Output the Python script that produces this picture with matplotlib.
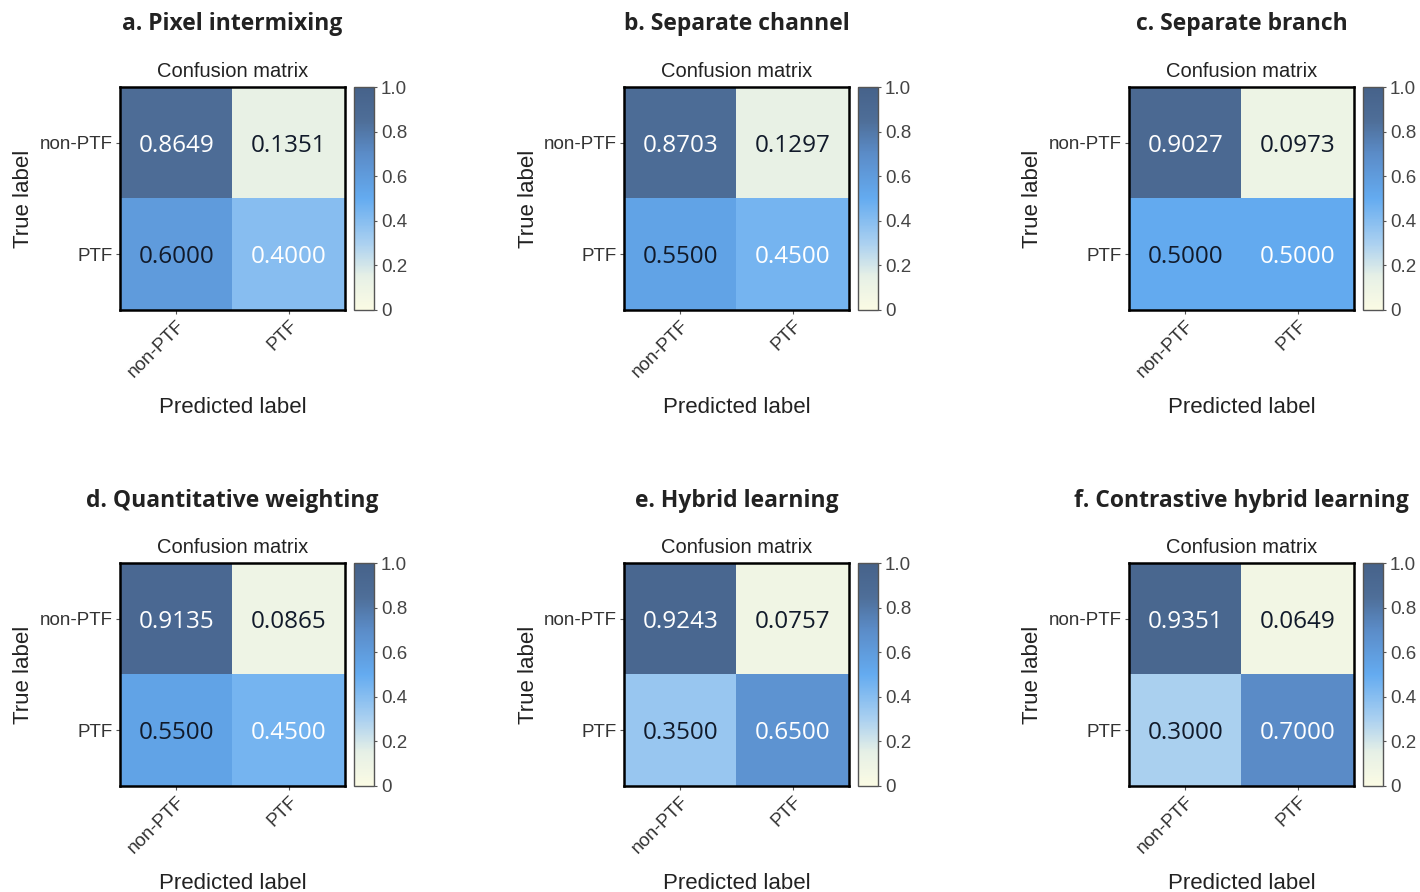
import numpy as np
import matplotlib
matplotlib.use('Agg')
import matplotlib.pyplot as plt
from matplotlib.colors import LinearSegmentedColormap

# Panel titles and confusion matrices (rows: true label, cols: predicted label)
titles = ['a. Pixel intermixing', 'b. Separate channel', 'c. Separate branch',
          'd. Quantitative weighting', 'e. Hybrid learning', 'f. Contrastive hybrid learning']
class_labels = ['non-PTF', 'PTF']
matrices = [
    [[0.8649, 0.1351], [0.6000, 0.4000]],
    [[0.8703, 0.1297], [0.5500, 0.4500]],
    [[0.9027, 0.0973], [0.5000, 0.5000]],
    [[0.9135, 0.0865], [0.5500, 0.4500]],
    [[0.9243, 0.0757], [0.3500, 0.6500]],
    [[0.9351, 0.0649], [0.3000, 0.7000]],
]
cbar_ticks = [0, 0.2, 0.4, 0.6, 0.8, 1.0]
cbar_ticklabels = ['0', '0.2', '0.4', '0.6', '0.8', '1.0']

cmap = LinearSegmentedColormap.from_list('cm', [
    (0.0, '#fbfbe4'),
    (0.15, '#e6f0e6'),
    (0.3, '#aad0f0'),
    (0.5, '#64abf0'),
    (0.7, '#5b8cc8'),
    (0.85, '#4e6e98'),
    (1.0, '#46628a'),
])

W, H = 1420, 892
fig = plt.figure(figsize=(W / 100, H / 100), dpi=100)
plt.rcParams['font.family'] = ['Liberation Sans', 'DejaVu Sans']

# left edge of each matrix (pixels) and top edge of each row
col_x = [120, 624, 1129]
row_y = [87, 563]
size_w, size_h = 225, 223

for i, (title, mat) in enumerate(zip(titles, matrices)):
    r, c = divmod(i, 3)
    x0, y0 = col_x[c], row_y[r]
    ax = fig.add_axes([x0 / W, 1 - (y0 + size_h) / H, size_w / W, size_h / H])
    cax = fig.add_axes([(x0 + 234) / W, 1 - (y0 + size_h) / H, 20 / W, size_h / H])

    m = np.array(mat)
    im = ax.imshow(m, cmap=cmap, vmin=0, vmax=1, aspect='auto')
    for (ri, ci), v in np.ndenumerate(m):
        color = 'white' if ri == ci else '#111a2a'
        ax.text(ci, ri, f'{v:.4f}', ha='center', va='center_baseline', color=color,
                fontsize=17.5, family='Open Sans')

    ax.set_xticks(range(2))
    ax.set_yticks(range(2))
    ax.set_xticklabels(class_labels, rotation=45, ha='right', rotation_mode='anchor',
                       fontsize=13.5, color='#333333')
    ax.set_yticklabels(class_labels, fontsize=13.5, color='#333333')
    ax.tick_params(length=3, color='#555555', pad=2)
    for s in ax.spines.values():
        s.set_linewidth(1.8)
    ax.set_xlabel('Predicted label', fontsize=16, color='#222222', labelpad=12)
    ax.set_ylabel('True label', fontsize=16, color='#222222', labelpad=4)
    ax.set_title('Confusion matrix', fontsize=14.5, color='#222222', pad=7)

    cb = fig.colorbar(im, cax=cax, ticks=cbar_ticks)
    cb.ax.set_yticklabels(cbar_ticklabels, fontsize=13.5, color='#444444')
    cb.ax.tick_params(length=2, color='#555555', pad=3)
    cb.outline.set_edgecolor('#555555')
    cb.outline.set_linewidth(1.0)

    fig.text((x0 + size_w / 2) / W, 1 - (24 if r == 0 else 501) / H, title,
             ha='center', va='center', fontsize=16.5, fontweight='bold',
             family='Open Sans', color='#222222')

fig.savefig('out.png', dpi=100)
